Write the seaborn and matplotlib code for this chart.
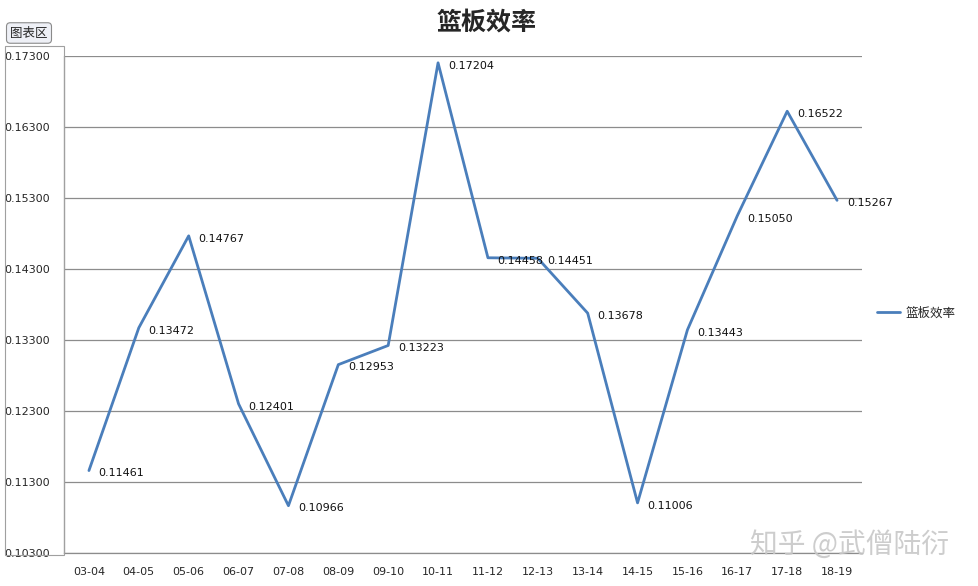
import matplotlib
matplotlib.use("Agg")
import matplotlib.pyplot as plt
import matplotlib.patches as mpatches
import seaborn as sns
import pandas as pd
import numpy as np

# ======================================================
# DATA
# ======================================================

seasons = ["03-04", "04-05", "05-06", "06-07", "07-08", "08-09", "09-10", "10-11",
           "11-12", "12-13", "13-14", "14-15", "15-16", "16-17", "17-18", "18-19"]
rebound_eff = [0.11461, 0.13472, 0.14767, 0.12401, 0.10966, 0.12953, 0.13223, 0.17204,
               0.14458, 0.14451, 0.13678, 0.11006, 0.13443, 0.15050, 0.16522, 0.15267]
y_ticks = [0.103, 0.113, 0.123, 0.133, 0.143, 0.153, 0.163, 0.173]

title = "篮板效率"
series_name = "篮板效率"

LINE_COLOR = "#4A7EBB"
GRID_COLOR = "#8C8C8C"

# ======================================================
# PLOT
# ======================================================

sns.set_style("white")
plt.rcParams["font.family"] = ["Noto Sans CJK SC", "DejaVu Sans"]

df = pd.DataFrame({"season": seasons, "value": rebound_eff})

fig = plt.figure(figsize=(9.79, 5.86), dpi=100)
ax = fig.add_axes([64 / 979, 1 - 553 / 586, 798 / 979, 497 / 586])

x_pos = np.arange(len(seasons))
df["x"] = x_pos
sns.lineplot(data=df, x="x", y="value", ax=ax, color=LINE_COLOR, linewidth=2.0,
             sort=False, label=series_name)

for xi, v in zip(x_pos, rebound_eff):
    ax.annotate(f"{v:.5f}", (xi, v), xytext=(7, -2), textcoords="offset points",
                ha="left", va="center", fontsize=8, family="DejaVu Sans",
                color="#111111")

ax.set_xlim(-0.5, len(seasons) - 0.5)
ax.set_ylim(y_ticks[0], y_ticks[-1])
ax.set_yticks(y_ticks)
ax.set_yticklabels([f"{t:.5f}" for t in y_ticks], fontsize=8, family="DejaVu Sans")
ax.set_xticks(x_pos)
ax.set_xticklabels(seasons, fontsize=8, family="DejaVu Sans")
ax.tick_params(axis="x", length=0, pad=10)
ax.set_xticks(np.arange(-0.5, len(seasons), 1), minor=True)
ax.tick_params(axis="x", which="minor", length=5, color=GRID_COLOR, direction="out")
ax.tick_params(axis="y", length=4, color=GRID_COLOR, direction="out", pad=6)
ax.set_xlabel("")
ax.set_ylabel("")

ax.grid(axis="y", color=GRID_COLOR, linewidth=0.9)
ax.grid(axis="x", visible=False)
for side in ["top", "right"]:
    ax.spines[side].set_visible(False)
for side in ["left", "bottom"]:
    ax.spines[side].set_color(GRID_COLOR)
    ax.spines[side].set_linewidth(0.9)

leg = ax.legend(loc="center left", bbox_to_anchor=(1.012, 0.483), frameon=False,
                fontsize=9, handlelength=1.9, handletextpad=0.4, borderaxespad=0)

fig.text(487 / 979, 1 - 23 / 586, title, ha="center", va="center",
         fontsize=18, fontweight="bold")

# chart-area button and selection outline
fig.text(29 / 979, 1 - 33 / 586, "图表区", ha="center", va="center", fontsize=9,
         bbox=dict(boxstyle="round,pad=0.3", fc="#EEF0F6", ec="#8A8A8A", lw=0.8))
fig.patches.append(mpatches.Rectangle((5 / 979, 1 - 555 / 586), 59 / 979, 509 / 586,
                                      transform=fig.transFigure, fill=False,
                                      ec="#A0A0A0", lw=0.8))

# watermark
fig.text(850 / 979, 1 - 545 / 586, "知乎 @武僧陆衍", ha="center", va="center",
         fontsize=20, color="#C8C8C8", alpha=0.9)

fig.savefig("out.png", dpi=100)
